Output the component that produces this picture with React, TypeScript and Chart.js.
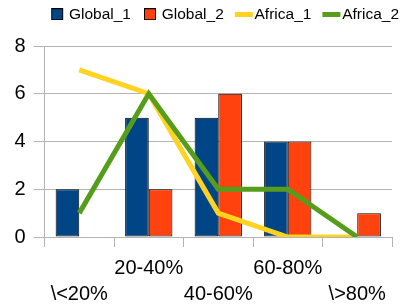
import React, { useEffect, useRef } from "react";
import { Chart, registerables } from "chart.js";

Chart.register(...registerables);

const categories = ["\\<20%", "20-40%", "40-60%", "60-80%", "\\>80%"];
const seriesNames = ["Global_1", "Global_2", "Africa_1", "Africa_2"];
const global1 = [2, 5, 5, 4, 0];
const global2 = [0, 2, 6, 4, 1];
const africa1 = [7, 6, 1, 0, 0];
const africa2 = [1, 6, 2, 2, 0];
const yMin = 0;
const yMax = 8;
const yStep = 2;

const COLORS = ["#004586", "#ff420e", "#ffd320", "#579d1c"];
const FONT = "'Liberation Sans', Arial, sans-serif";
const GRID = "#b3b3b3";

const LEGEND_DX = 12;
const LEGEND_DY = 1.5;
const LEGEND_HEIGHT = 46;
const X_AXIS_HEIGHT = 68;

function squareIcon(fill: string): HTMLCanvasElement {
  const c = document.createElement("canvas");
  c.width = 24;
  c.height = 12;
  const g = c.getContext("2d")!;
  g.fillStyle = fill;
  g.fillRect(11, 0, 12, 12);
  g.strokeStyle = "#000";
  g.lineWidth = 1;
  g.strokeRect(11.5, 0.5, 11, 11);
  return c;
}

function lineIcon(color: string): HTMLCanvasElement {
  const c = document.createElement("canvas");
  c.width = 32;
  c.height = 5;
  const g = c.getContext("2d")!;
  g.fillStyle = color;
  g.fillRect(13, 0, 18, 5);
  return c;
}

const legendPatch = {
  id: "legendPatch",
  afterInit(chart: any) {
    const lg = chart.legend;
    if (!lg) return;
    const fit = lg.fit;
    lg.fit = function (this: any) {
      fit.call(this);
      this.height = LEGEND_HEIGHT;
    };
    const draw = lg.draw;
    lg.draw = function (this: any) {
      const ctx = this.ctx;
      ctx.save();
      ctx.translate(LEGEND_DX, LEGEND_DY);
      draw.call(this);
      ctx.restore();
    };
  },
};

export default function App() {
  const ref = useRef<HTMLCanvasElement | null>(null);

  useEffect(() => {
    if (!ref.current) return;
    const icons = [
      squareIcon(COLORS[0]),
      squareIcon(COLORS[1]),
      lineIcon(COLORS[2]),
      lineIcon(COLORS[3]),
    ];
    const barBase = {
      type: "bar" as const,
      borderColor: "#000",
      borderWidth: 1,
      borderSkipped: false,
      categoryPercentage: 0.68,
      barPercentage: 1.0,
    };
    const lineBase = {
      type: "line" as const,
      borderWidth: 5,
      pointRadius: 0,
      pointHoverRadius: 0,
      tension: 0,
      fill: false,
      borderJoinStyle: "miter" as const,
    };
    const chart = new Chart(ref.current, {
      type: "bar",
      data: {
        labels: categories,
        datasets: [
          { ...barBase, label: seriesNames[0], data: global1, backgroundColor: COLORS[0], order: 3 },
          { ...barBase, label: seriesNames[1], data: global2, backgroundColor: COLORS[1], order: 4 },
          { ...lineBase, label: seriesNames[2], data: africa1, borderColor: COLORS[2], backgroundColor: COLORS[2], order: 2 },
          { ...lineBase, label: seriesNames[3], data: africa2, borderColor: COLORS[3], backgroundColor: COLORS[3], order: 1 },
        ] as any,
      },
      options: {
        responsive: false,
        animation: false,
        devicePixelRatio: 1,
        layout: { padding: { left: 6.4, right: 14, top: 0, bottom: 0 } },
        plugins: {
          tooltip: { enabled: false },
          legend: {
            position: "top",
            align: "end",
            labels: {
              usePointStyle: true,
              pointStyleWidth: 18,
              padding: 5,
              color: "#000",
              font: { family: FONT, size: 15.5 },
              sort: (a: any, b: any) => a.datasetIndex - b.datasetIndex,
              generateLabels: (ch: any) => {
                const items = Chart.defaults.plugins.legend.labels.generateLabels(ch);
                return items.map((it: any) => ({ ...it, pointStyle: icons[it.datasetIndex] }));
              },
            },
          },
        },
        scales: {
          x: {
            offset: true,
            afterFit: (s: any) => {
              s.height = X_AXIS_HEIGHT;
            },
            grid: {
              offset: true,
              drawOnChartArea: false,
              drawTicks: true,
              tickLength: 10,
              color: GRID,
            },
            border: { display: true, color: GRID },
            ticks: {
              autoSkip: false,
              maxRotation: 0,
              minRotation: 0,
              padding: 8,
              color: "#000",
              font: { family: FONT, size: 20, lineHeight: 1.3 },
              callback: (_v: any, i: number) =>
                i % 2 === 0 ? ["", categories[i]] : [categories[i]],
            },
          },
          y: {
            min: yMin,
            max: yMax,
            grid: { color: GRID, tickLength: 11 },
            border: { display: true, color: GRID },
            ticks: {
              stepSize: yStep,
              padding: 8,
              color: "#000",
              font: { family: FONT, size: 20 },
            },
          },
        },
      },
      plugins: [legendPatch],
    });
    return () => chart.destroy();
  }, []);

  return (
    <div style={{ position: "fixed", left: 0, top: 0, width: 406, height: 305 }}>
      <canvas ref={ref} width={406} height={305} style={{ width: 406, height: 305 }} />
    </div>
  );
}
